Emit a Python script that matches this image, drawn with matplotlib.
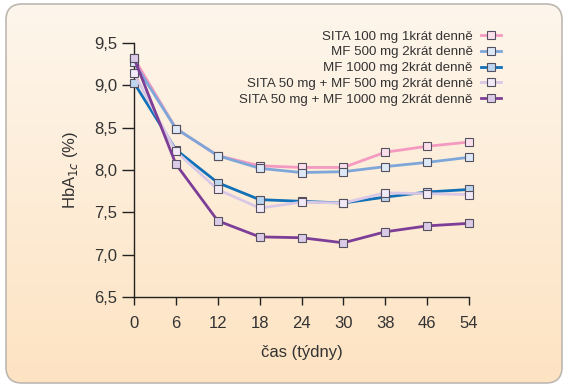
import numpy as np
import matplotlib
matplotlib.use("Agg")
import matplotlib.pyplot as plt
from matplotlib.patches import FancyBboxPatch
from matplotlib.colors import LinearSegmentedColormap

plt.rcParams["font.family"] = ["Liberation Sans", "DejaVu Sans"]

weeks = ["0", "6", "12", "18", "24", "30", "38", "46", "54"]
series_names = [
    "SITA 100 mg 1krát denně",
    "MF 500 mg 2krát denně",
    "MF 1000 mg 2krát denně",
    "SITA 50 mg + MF 500 mg 2krát denně",
    "SITA 50 mg + MF 1000 mg 2krát denně",
]
sita100 = [9.32, 8.49, 8.17, 8.05, 8.03, 8.03, 8.21, 8.28, 8.33]
mf500 = [9.27, 8.49, 8.17, 8.02, 7.97, 7.98, 8.04, 8.09, 8.15]
mf1000 = [9.03, 8.24, 7.85, 7.65, 7.63, 7.61, 7.68, 7.74, 7.77]
sita50_mf500 = [9.14, 8.22, 7.77, 7.55, 7.62, 7.61, 7.73, 7.72, 7.71]
sita50_mf1000 = [9.32, 8.07, 7.40, 7.21, 7.20, 7.14, 7.27, 7.34, 7.37]
yticks = [6.5, 7.0, 7.5, 8.0, 8.5, 9.0, 9.5]
ytick_labels = ["6,5", "7,0", "7,5", "8,0", "8,5", "9,0", "9,5"]

line_colors = ["#f49ac1", "#7ea6d9", "#1070b8", "#d9c8e6", "#7d3e98"]
face_colors = ["#fbe0ec", "#dde9f7", "#bcd6f0", "#f1eaf6", "#dccbe8"]
data = [sita100, mf500, mf1000, sita50_mf500, sita50_mf1000]

W, H = 567, 388
fig = plt.figure(figsize=(W / 100, H / 100), dpi=100)
fig.patch.set_facecolor("white")

# background with gradient and rounded border
bg = fig.add_axes([0, 0, 1, 1])
bg.set_xlim(0, W)
bg.set_ylim(H, 0)
bg.axis("off")
cmap = LinearSegmentedColormap.from_list("bgc", ["#fef6ec", "#fde3c2"])
grad = np.linspace(0, 1, 256).reshape(-1, 1)
im = bg.imshow(grad, cmap=cmap, extent=[6, 562, 383, 4], aspect="auto", zorder=0)
box = FancyBboxPatch((6, 4), 556, 379, boxstyle="round,pad=0,rounding_size=16",
                     facecolor="none", edgecolor="#bdb8b2", linewidth=1.2, zorder=2)
bg.add_patch(box)
im.set_clip_path(box)

ax = fig.add_axes([134 / W, 1 - 297 / H, (469 - 134) / W, (297 - 43) / H])
ax.patch.set_alpha(0)
x = np.arange(len(weeks))
for vals, lc, fc, name in zip(data, line_colors, face_colors, series_names):
    ax.plot(x, vals, color=lc, lw=2, marker="s", markersize=6,
            markerfacecolor=fc, markeredgecolor="#555060", markeredgewidth=0.8,
            clip_on=False, zorder=3, label=name)

ax.set_xlim(0, len(weeks) - 1)
ax.set_ylim(6.5, 9.5)
ax.set_xticks(x)
ax.set_xticklabels(weeks)
ax.set_yticks(yticks)
ax.set_yticklabels(ytick_labels)
for s in ["top", "right"]:
    ax.spines[s].set_visible(False)
for s in ["left", "bottom"]:
    ax.spines[s].set_color("#222222")
    ax.spines[s].set_linewidth(1.0)
ax.tick_params(axis="y", length=9, width=1, colors="#222222", labelsize=12, pad=3)
ax.tick_params(axis="x", length=6, width=1, colors="#222222", labelsize=12, pad=8)
for t in ax.get_xticklabels() + ax.get_yticklabels():
    t.set_color("#333333")
ax.set_xlabel("čas (týdny)", fontsize=12, color="#333333", labelpad=10)
ax.set_ylabel("HbA$_{1c}$ (%)", fontsize=12, color="#333333", labelpad=10)

leg = ax.legend(loc="upper right", bbox_to_anchor=(506 / W, 1 - 25 / H),
                bbox_transform=fig.transFigure, frameon=False, fontsize=9.6,
                markerfirst=False, handlelength=1.5, handletextpad=0.6,
                labelspacing=0.26, borderaxespad=0)
for t in leg.get_texts():
    t.set_color("#333333")
    t.set_ha("right")

fig.savefig("out.png", dpi=100)
